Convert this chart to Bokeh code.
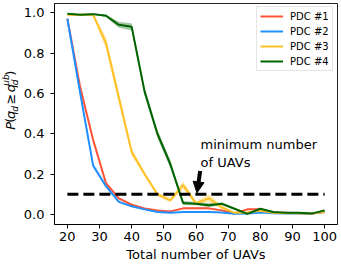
import math
from bokeh.plotting import figure
from bokeh.layouts import row
from bokeh.models import Range1d, Label, Arrow, NormalHead, FixedTicker
from bokeh.core.properties import value
from bokeh.embed import file_html
from bokeh.resources import INLINE

# ---- data ----
num_uavs = [20, 24, 28, 32, 36, 40, 44, 48, 52, 56, 60, 64, 68, 72, 76, 80, 84, 88, 92, 96, 100]
pdc1 = [0.97, 0.63, 0.37, 0.155, 0.08, 0.048, 0.03, 0.02, 0.015, 0.03, 0.03, 0.03, 0.02, 0.005, 0.025, 0.026, 0.01, 0.008, 0.006, 0.005, 0.012]
pdc1_err = [0.005, 0.015, 0.012, 0.008, 0.005, 0.004, 0.003, 0.003, 0.003, 0.004, 0.004, 0.004, 0.003, 0.002, 0.004, 0.004, 0.002, 0.002, 0.002, 0.002, 0.003]
pdc2 = [0.97, 0.60, 0.243, 0.14, 0.062, 0.04, 0.025, 0.012, 0.008, 0.012, 0.012, 0.012, 0.01, 0.003, 0.004, 0.01, 0.006, 0.005, 0.004, 0.004, 0.012]
pdc2_err = [0.005, 0.015, 0.012, 0.008, 0.005, 0.004, 0.003, 0.003, 0.002, 0.003, 0.003, 0.003, 0.002, 0.002, 0.002, 0.002, 0.002, 0.002, 0.002, 0.002, 0.003]
pdc3 = [0.99, 0.99, 0.99, 0.85, 0.58, 0.31, 0.20, 0.10, 0.07, 0.145, 0.055, 0.08, 0.035, 0.008, 0.01, 0.018, 0.008, 0.006, 0.006, 0.005, 0.012]
pdc3_err = [0.004, 0.004, 0.006, 0.03, 0.03, 0.02, 0.012, 0.01, 0.01, 0.02, 0.01, 0.02, 0.01, 0.004, 0.004, 0.006, 0.004, 0.003, 0.003, 0.003, 0.004]
pdc4 = [0.995, 0.99, 0.993, 0.985, 0.94, 0.93, 0.61, 0.40, 0.25, 0.056, 0.053, 0.045, 0.053, 0.028, 0.003, 0.028, 0.012, 0.008, 0.008, 0.004, 0.02]
pdc4_err = [0.004, 0.004, 0.004, 0.006, 0.015, 0.018, 0.02, 0.02, 0.02, 0.01, 0.008, 0.01, 0.006, 0.004, 0.003, 0.004, 0.003, 0.003, 0.003, 0.003, 0.004]
series_names = ["PDC #1", "PDC #2", "PDC #3", "PDC #4"]
threshold_x = [20, 100]
threshold_y = [0.1, 0.1]
x_ticks = [20, 30, 40, 50, 60, 70, 80, 90, 100]
y_ticks = [0.0, 0.2, 0.4, 0.6, 0.8, 1.0]
annotation_text = "minimum number\n of UAVs"
x_label = "Total number of UAVs"
# y label  P(q_d >= q_d^ub) split into styled pieces
ylab_text = ["P", "(", "q", "d", "≥", "q", "d", "ub", ")"]
ylab_size = ["13px", "13px", "13px", "9px", "13px", "13px", "9px", "9px", "13px"]
ylab_style = ["italic", "normal", "italic", "italic", "normal", "italic", "italic", "italic", "normal"]

colors = ["#ff5438", "#1e90ff", "#ffc125", "#006400"]
FONT = "DejaVu Sans"

# ---- label strip (rotated y-axis label) ----
LAB_W = 19
H = 266
lab = figure(width=LAB_W, height=H, output_backend="svg", toolbar_location=None,
             x_range=Range1d(0, LAB_W), y_range=Range1d(H, 0),
             x_axis_type=None, y_axis_type=None,
             min_border_left=0, min_border_right=0, min_border_top=0, min_border_bottom=0)
lab.outline_line_color = None
lab.xgrid.visible = False
lab.ygrid.visible = False
lab_x = [10, 10, 10, 14.1, 10, 10, 14.1, 5.6, 10]
lab_y = [147.1, 140.6, 134.0, 127.0, 115.0, 101.9, 94.9, 92.0, 83.8]
for i, t in enumerate(ylab_text):
    lab.text(x=[lab_x[i]], y=[lab_y[i]], text=[t], angle=math.pi / 2,
             text_font=value(FONT), text_font_size=value(ylab_size[i]),
             text_font_style=value(ylab_style[i]), text_color="black",
             text_align="center", text_baseline="middle")

# ---- main plot ----
p = figure(width=341 - LAB_W, height=H, output_backend="svg", toolbar_location=None,
           x_range=Range1d(16, 104), y_range=Range1d(-0.05, 1.0457),
           min_border_left=54 - LAB_W, min_border_right=4, min_border_top=3, min_border_bottom=42)
p.xgrid.visible = False
p.ygrid.visible = False
p.outline_line_color = "black"
p.outline_line_alpha = 0.85
p.background_fill_color = "white"

for ys, es, c in zip([pdc1, pdc2, pdc3, pdc4], [pdc1_err, pdc2_err, pdc3_err, pdc4_err], colors):
    lo = [y - e for y, e in zip(ys, es)]
    hi = [y + e for y, e in zip(ys, es)]
    p.varea(x=num_uavs, y1=lo, y2=hi, fill_color=c, fill_alpha=0.35)
for ys, c, name in zip([pdc1, pdc2, pdc3, pdc4], colors, series_names):
    p.line(num_uavs, ys, line_color=c, line_width=2, legend_label=name)

p.line(threshold_x, threshold_y, line_color="black", line_width=3.2, line_dash="11 5")

p.add_layout(Arrow(end=NormalHead(size=11, fill_color="black", line_color="black"),
                   x_start=61.3, y_start=0.215, x_end=60.3, y_end=0.107,
                   line_color="black", line_width=4))
p.add_layout(Label(x=61.4, y=0.385, text=annotation_text, text_font=FONT,
                   text_font_size="13px", text_baseline="top", text_align="left",
                   text_color="black", text_line_height=1.2))

for ax in (p.xaxis, p.yaxis):
    ax.major_label_text_font = FONT
    ax.major_label_text_font_size = "13px"
    ax.major_label_text_color = "black"
    ax.axis_line_color = "black"
    ax.major_tick_line_color = "black"
    ax.major_tick_out = 4
    ax.major_tick_in = 0
    ax.minor_tick_line_color = None
p.xaxis.ticker = FixedTicker(ticks=x_ticks)
p.yaxis.ticker = FixedTicker(ticks=y_ticks)
p.yaxis.major_label_overrides = {v: f"{v:.1f}" for v in y_ticks}
p.xaxis.major_label_standoff = 3
p.yaxis.major_label_standoff = 6
p.xaxis.axis_label = x_label
p.xaxis.axis_label_text_font = FONT
p.xaxis.axis_label_text_font_size = "13px"
p.xaxis.axis_label_text_font_style = "normal"
p.xaxis.axis_label_text_color = "black"
p.xaxis.axis_label_standoff = 3

lg = p.legend[0]
lg.location = (202, 153)
lg.label_text_font = FONT
lg.label_text_font_size = "10px"
lg.label_text_color = "black"
lg.glyph_height = 12
lg.glyph_width = 23
lg.label_height = 12
lg.label_standoff = 7
lg.spacing = 3
lg.padding = 3
lg.margin = 0
lg.border_line_color = "#cccccc"
lg.border_line_width = 1
lg.background_fill_color = "white"
lg.background_fill_alpha = 0.8

layout = row(lab, p, spacing=0)
open("out.html", "w").write(file_html(layout, INLINE))
